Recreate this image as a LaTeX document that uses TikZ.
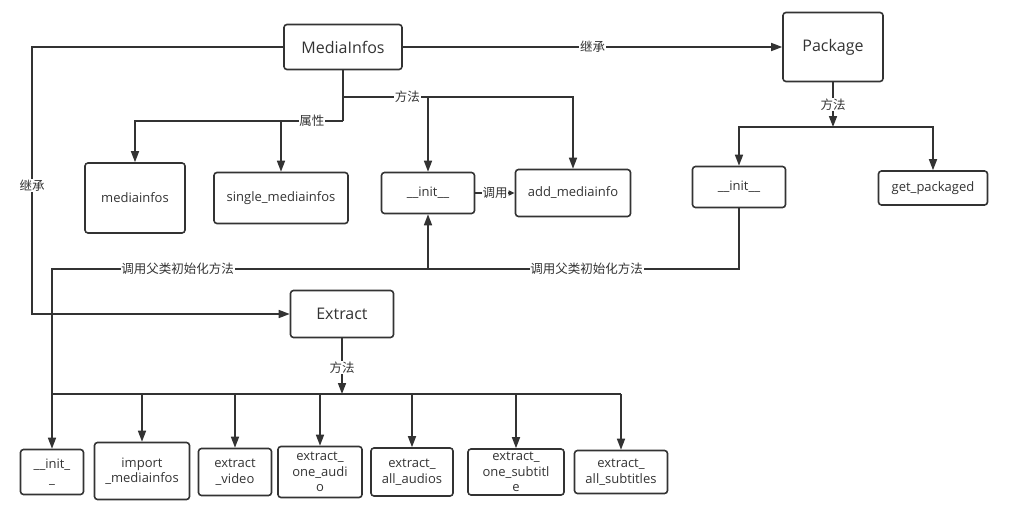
\documentclass[tikz,border=0pt]{standalone}
\usepackage{fontspec}
\setmainfont{Open Sans}
\newfontfamily\cjk{Noto Sans CJK SC}
\usepackage{xcolor}
\usetikzlibrary{arrows.meta, positioning, calc}
\definecolor{ink}{HTML}{333333}

\begin{document}
\begin{tikzpicture}[x=1pt, y=-1pt, >={Triangle[length=11pt,width=8pt]},
    box/.style={draw=ink, line width=1.6pt, rounded corners=3pt, align=center, text=ink, inner sep=0pt, font=\fontsize{13}{15.5}\selectfont},
    cls/.style={box, font=\fontsize{16}{19}\selectfont},
    lbl/.style={fill=white, inner sep=0.8pt, text=ink, font=\cjk\fontsize{12.5}{14}\selectfont},
    wire/.style={draw=ink, line width=1.6pt}]
  \useasboundingbox (0,0) rectangle (1012,519);

  % classes
  \node[cls, minimum width=118, minimum height=45] (mi) at (343,47) {MediaInfos};
  \node[cls, minimum width=100, minimum height=69] (pk) at (833,47) {Package};
  \node[cls, minimum width=103, minimum height=47] (ex) at (342,314) {Extract};

  % MediaInfos members
  \node[box, minimum width=100, minimum height=70] (mo) at (135,198) {mediainfos};
  \node[box, minimum width=134, minimum height=51] (smi) at (281,198) {single\_mediainfos};
  \node[box, minimum width=93, minimum height=41] (mini) at (428,193) {\_\_init\_\_};
  \node[box, minimum width=115, minimum height=47] (am) at (573,193) {add\_mediainfo};

  % Package members
  \node[box, minimum width=93, minimum height=41] (pinit) at (739,187) {\_\_init\_\_};
  \node[box, minimum width=109, minimum height=34] (gp) at (933,188) {get\_packaged};

  % Extract members
  \node[box, minimum width=63, minimum height=45] (einit) at (52,472) {\_\_init\_\\\_};
  \node[box, minimum width=95, minimum height=57] (imp) at (142,471) {import\\\_mediainfos};
  \node[box, minimum width=73, minimum height=47] (evid) at (235,472) {extract\\\_video};
  \node[box, minimum width=84, minimum height=51] (eoa) at (320,472) {extract\_\\one\_audi\\o};
  \node[box, minimum width=82, minimum height=48] (eaa) at (412,472) {extract\_\\all\_audios};
  \node[box, minimum width=96, minimum height=46] (eos) at (516,472) {extract\_\\one\_subtitl\\e};
  \node[box, minimum width=93, minimum height=43] (eas) at (621,472) {extract\_\\all\_subtitles};

  % inheritance
  \draw[wire, ->] (mi.east) -- node[lbl]{继承} (pk.west);
  \draw[wire, ->] (mi.west) -- ++(-251,0) |- node[lbl, pos=0.26]{继承} (ex.west);

  % MediaInfos attributes and methods
  \coordinate (attr) at (343,121);
  \coordinate (meth) at (343,97);
  \draw[wire] (mi.south) -- (attr);
  \draw[wire, ->] (attr) -| node[lbl, pos=0.075]{属性} (mo.north);
  \draw[wire, ->] (attr -| smi.north) -- (smi.north);
  \draw[wire, ->] (meth) -| node[lbl, pos=0.14]{方法} (am.north);
  \draw[wire, ->] (meth -| mini.north) -- (mini.north);
  \draw[wire, -{Triangle[length=6pt,width=5pt]}] (mini.east) -- node[lbl]{调用} (am.west);

  % Package methods
  \coordinate (pm) at (833,127);
  \draw[wire, ->] (pk.south) -- node[lbl, pos=0.5]{方法} (pm);
  \draw[wire, ->] (pm) -| (pinit.north);
  \draw[wire, ->] (pm) -| (gp.north);

  % calls to parent init
  \coordinate (cp) at (428,269);
  \coordinate (eb) at (52,394);
  \draw[wire] (pinit.south) |- node[lbl, pos=0.745]{调用父类初始化方法} (cp);
  \draw[wire, ->] (cp) -- (mini.south);
  \draw[wire] (cp) -| node[lbl, pos=0.333]{调用父类初始化方法} (eb);

  % Extract methods
  \coordinate (em) at (342,394);
  \draw[wire, ->] (ex.south) -- node[lbl, pos=0.52]{方法} (em);
  \draw[wire] (eb) -- (eb -| eas.north);
  \foreach \n in {einit, imp, evid, eoa, eaa, eos, eas}
    \draw[wire, ->] (eb -| \n.north) -- (\n.north);
\end{tikzpicture}
\end{document}
